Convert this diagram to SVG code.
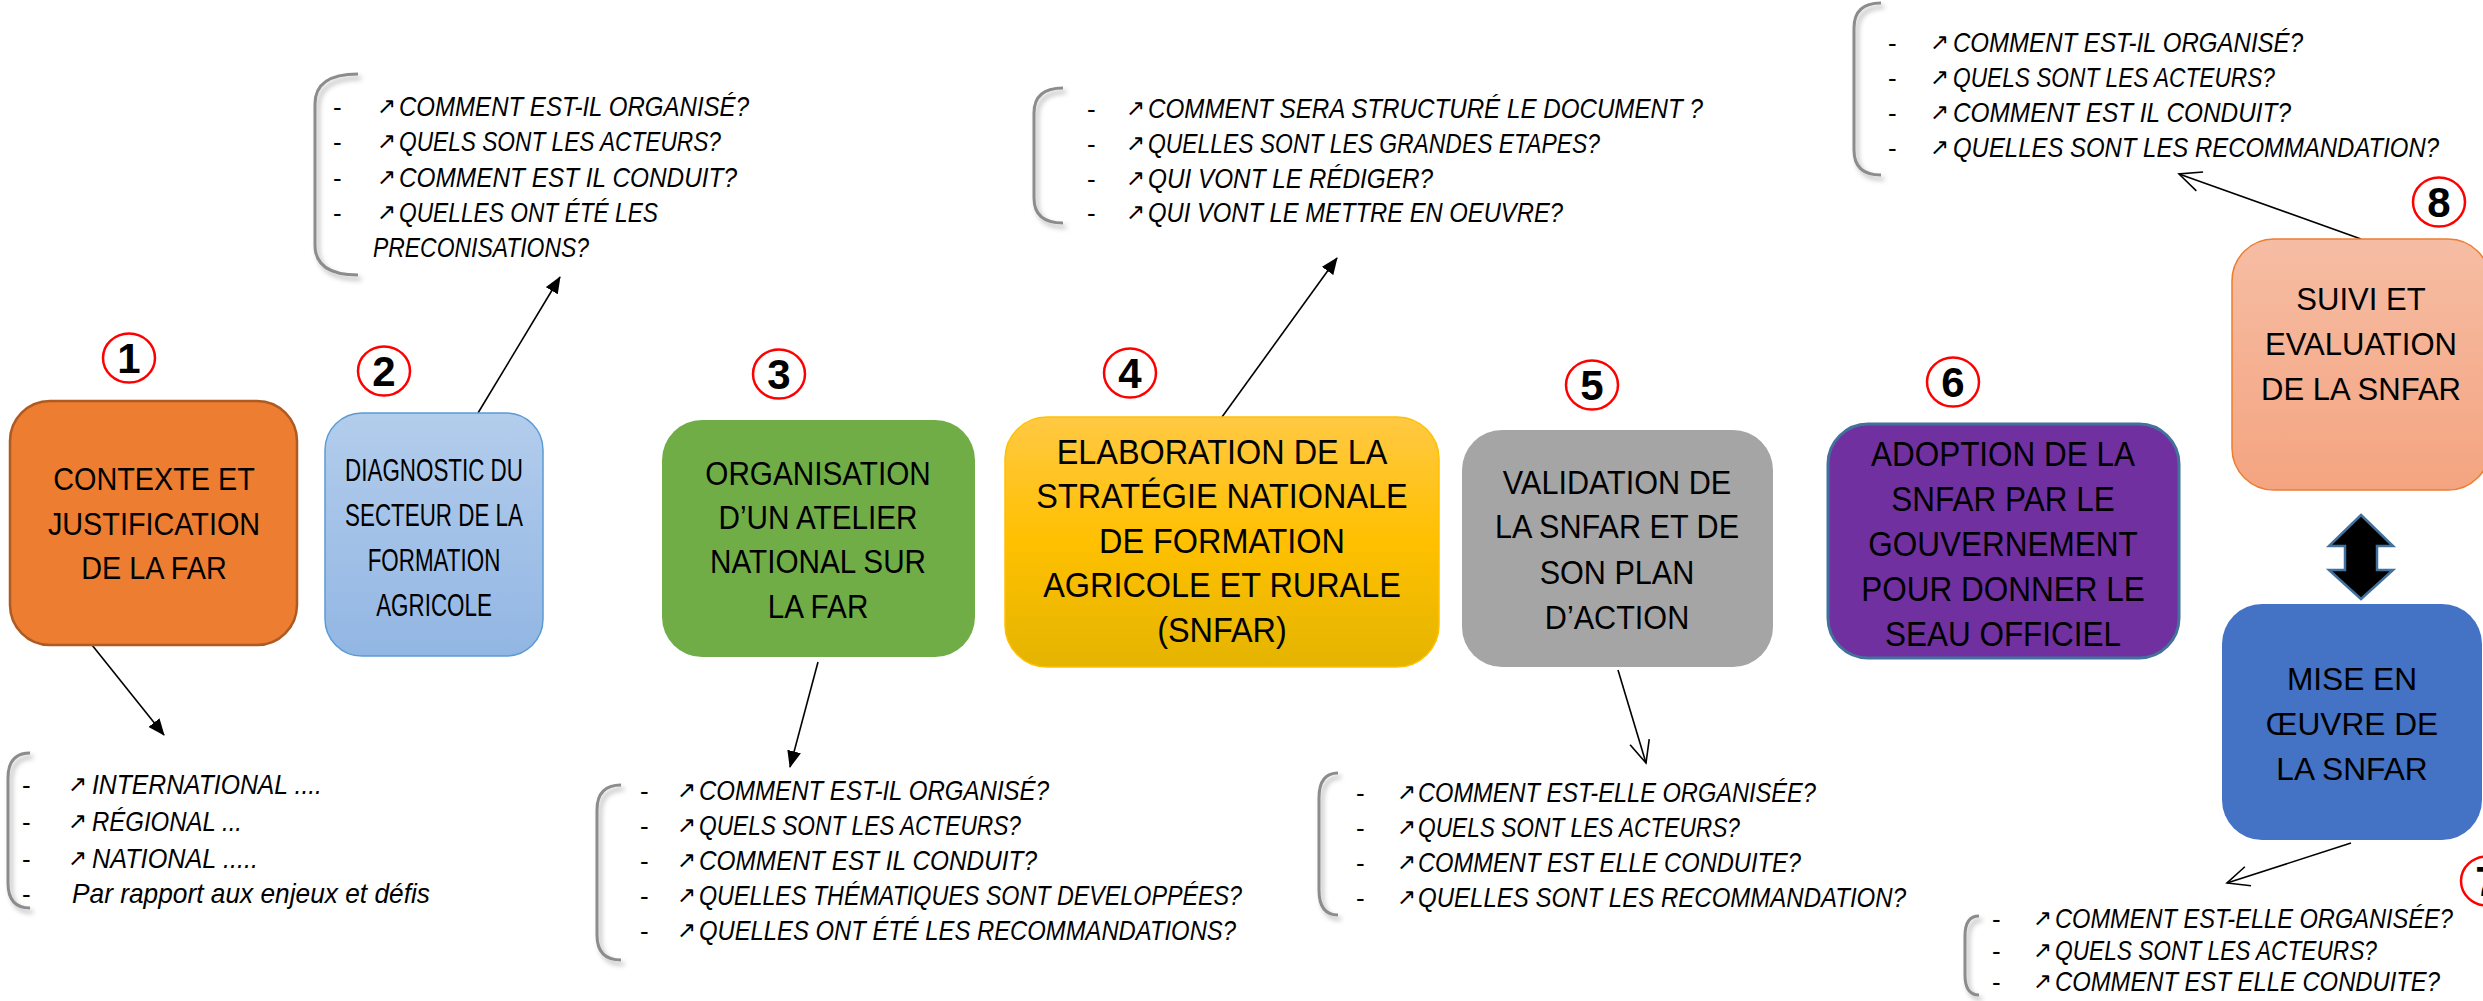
<svg xmlns="http://www.w3.org/2000/svg" width="2483" height="1001" viewBox="0 0 2483 1001">
<style>
.bt{font-family:"Liberation Sans",Arial,sans-serif;font-size:32px;fill:#000;text-anchor:middle}
.bl{font-family:"Liberation Sans",Arial,sans-serif;font-size:28px;font-style:italic;fill:#000}
.dash{font-family:"Liberation Sans",Arial,sans-serif;font-size:26px;fill:#000}
.ar{font-family:"DejaVu Sans",sans-serif;font-size:23px;fill:#000}
.num{font-family:"Liberation Sans",Arial,sans-serif;font-size:42px;font-weight:bold;fill:#000;text-anchor:middle}
.circ{fill:#fff;stroke:#FF0000;stroke-width:2.5}
.brk{fill:none;stroke:#8C8C8C;stroke-width:3;filter:url(#sh)}
.con{fill:none;stroke:#000;stroke-width:1.6}
</style>
<defs>
<linearGradient id="g2" x1="0" y1="0" x2="0" y2="1"><stop offset="0" stop-color="#B3CDEC"/><stop offset="1" stop-color="#92B6E3"/></linearGradient>
<linearGradient id="g4" x1="0" y1="0" x2="0" y2="1"><stop offset="0" stop-color="#FFC943"/><stop offset="0.5" stop-color="#FFC000"/><stop offset="1" stop-color="#E4B400"/></linearGradient>
<linearGradient id="g8" x1="0" y1="0" x2="0" y2="1"><stop offset="0" stop-color="#F6BDA4"/><stop offset="1" stop-color="#F4A480"/></linearGradient>
<filter id="sh" x="-50%" y="-10%" width="200%" height="130%"><feDropShadow dx="3" dy="4" stdDeviation="2.5" flood-color="#000" flood-opacity="0.3"/></filter>
<marker id="fa" markerUnits="userSpaceOnUse" markerWidth="18" markerHeight="14" refX="16" refY="7" orient="auto"><path d="M0,0 L17,7 L0,14 z" fill="#000"/></marker>
<marker id="oa" markerUnits="userSpaceOnUse" markerWidth="26" markerHeight="22" refX="23" refY="11" orient="auto"><path d="M1,1 L23,11 L1,21" fill="none" stroke="#000" stroke-width="1.6"/></marker>
</defs>
<rect width="2483" height="1001" fill="#fff"/>

<g id="connectors">
<line class="con" x1="92" y1="645" x2="164" y2="735" marker-end="url(#fa)"/>
<line class="con" x1="478" y1="413" x2="560" y2="277" marker-end="url(#fa)"/>
<line class="con" x1="818" y1="662" x2="790" y2="767" marker-end="url(#fa)"/>
<line class="con" x1="1222" y1="417" x2="1337" y2="258" marker-end="url(#fa)"/>
<line class="con" x1="1618" y1="670" x2="1646" y2="763" marker-end="url(#oa)"/>
<line class="con" x1="2361" y1="239" x2="2179" y2="174" marker-end="url(#oa)"/>
<line class="con" x1="2351" y1="843" x2="2227" y2="883" marker-end="url(#oa)"/>
<polygon id="double-arrow" points="2361,515 2393,546 2377,546 2377,570 2393,570 2361,599 2329,570 2345,570 2345,546 2329,546" fill="#000" stroke="#41719C" stroke-width="2.5"/>
</g>

<g id="node1">
<rect x="10" y="401" width="287" height="244" rx="40" fill="#ED7D31" stroke="#AE5A21" stroke-width="2.5"/>
<g transform="translate(154 0) scale(0.9 1)">
<text class="bt" x="0" y="490">CONTEXTE ET</text>
<text class="bt" x="0" y="535">JUSTIFICATION</text>
<text class="bt" x="0" y="579">DE LA FAR</text>
</g>
</g>
<g id="node2">
<rect x="325" y="413" width="218" height="243" rx="37" fill="url(#g2)" stroke="#5B9BD5" stroke-width="1.5"/>
<g transform="translate(434 0) scale(0.7 1)">
<text class="bt" x="0" y="481">DIAGNOSTIC DU</text>
<text class="bt" x="0" y="526">SECTEUR DE LA</text>
<text class="bt" x="0" y="571">FORMATION</text>
<text class="bt" x="0" y="616">AGRICOLE</text>
</g>
</g>
<g id="node3">
<rect x="662" y="420" width="313" height="237" rx="40" fill="#70AD47"/>
<g transform="translate(818 0) scale(0.9 1)">
<text class="bt" x="0" y="485" style="font-size:33px">ORGANISATION</text>
<text class="bt" x="0" y="529" style="font-size:33px">D’UN ATELIER</text>
<text class="bt" x="0" y="573" style="font-size:33px">NATIONAL SUR</text>
<text class="bt" x="0" y="618" style="font-size:33px">LA FAR</text>
</g>
</g>
<g id="node4">
<rect x="1005" y="417" width="434" height="250" rx="42" fill="url(#g4)" stroke="#FFC000" stroke-width="1.5"/>
<g transform="translate(1222 0) scale(0.9 1)">
<text class="bt" x="0" y="464" style="font-size:36px">ELABORATION DE LA</text>
<text class="bt" x="0" y="508" style="font-size:36px">STRATÉGIE NATIONALE</text>
<text class="bt" x="0" y="553" style="font-size:36px">DE FORMATION</text>
<text class="bt" x="0" y="597" style="font-size:36px">AGRICOLE ET RURALE</text>
<text class="bt" x="0" y="642" style="font-size:36px">(SNFAR)</text>
</g>
</g>
<g id="node5">
<rect x="1462" y="430" width="311" height="237" rx="40" fill="#A5A5A5"/>
<g transform="translate(1617 0) scale(0.9 1)">
<text class="bt" x="0" y="494" style="font-size:34px">VALIDATION DE</text>
<text class="bt" x="0" y="538" style="font-size:34px">LA SNFAR ET DE</text>
<text class="bt" x="0" y="584" style="font-size:34px">SON PLAN</text>
<text class="bt" x="0" y="629" style="font-size:34px">D’ACTION</text>
</g>
</g>
<g id="node6">
<rect x="1828" y="424" width="351" height="234" rx="40" fill="#7030A0" stroke="#41719C" stroke-width="3"/>
<g transform="translate(2003 0) scale(0.9 1)">
<text class="bt" x="0" y="466" style="font-size:35px">ADOPTION DE LA</text>
<text class="bt" x="0" y="511" style="font-size:35px">SNFAR PAR LE</text>
<text class="bt" x="0" y="556" style="font-size:35px">GOUVERNEMENT</text>
<text class="bt" x="0" y="601" style="font-size:35px">POUR DONNER LE</text>
<text class="bt" x="0" y="646" style="font-size:35px">SEAU OFFICIEL</text>
</g>
</g>
<g id="node7">
<rect x="2222" y="604" width="260" height="236" rx="40" fill="#4472C4"/>
<g transform="translate(2352 0) scale(0.99 1)">
<text class="bt" x="0" y="690">MISE EN</text>
<text class="bt" x="0" y="735">ŒUVRE DE</text>
<text class="bt" x="0" y="780">LA SNFAR</text>
</g>
</g>
<g id="node8">
<rect x="2232" y="239" width="258" height="251" rx="42" fill="url(#g8)" stroke="#ED7D31" stroke-width="1.5"/>
<g transform="translate(2361 0) scale(0.97 1)">
<text class="bt" x="0" y="310">SUIVI ET</text>
<text class="bt" x="0" y="355">EVALUATION</text>
<text class="bt" x="0" y="400">DE LA SNFAR</text>
</g>
</g>

<g id="badges">
<g id="badge1"><ellipse class="circ" cx="129" cy="358" rx="26" ry="24.5"/><text class="num" x="129" y="373">1</text></g>
<g id="badge2"><ellipse class="circ" cx="384" cy="371" rx="26" ry="24.5"/><text class="num" x="384" y="386">2</text></g>
<g id="badge3"><ellipse class="circ" cx="779" cy="374" rx="26" ry="24.5"/><text class="num" x="779" y="389">3</text></g>
<g id="badge4"><ellipse class="circ" cx="1130" cy="373" rx="26" ry="24.5"/><text class="num" x="1130" y="388">4</text></g>
<g id="badge5"><ellipse class="circ" cx="1592" cy="385" rx="26" ry="24.5"/><text class="num" x="1592" y="400">5</text></g>
<g id="badge6"><ellipse class="circ" cx="1953" cy="382" rx="26" ry="24.5"/><text class="num" x="1953" y="397">6</text></g>
<g id="badge7"><ellipse class="circ" cx="2487" cy="881" rx="26" ry="24.5"/><text class="num" x="2487" y="896">7</text></g>
<g id="badge8"><ellipse class="circ" cx="2439" cy="202" rx="26" ry="24.5"/><text class="num" x="2439" y="217">8</text></g>
</g>

<g id="notes1">
<path class="brk" d="M30,753 Q8,753 8,778 L8,883 Q8,908 30,908"/>
<text class="dash" x="22" y="794">-</text><text class="ar" x="68" y="792">↗</text><text class="bl" x="92" y="794" textLength="230" lengthAdjust="spacingAndGlyphs">INTERNATIONAL ....</text>
<text class="dash" x="22" y="831">-</text><text class="ar" x="68" y="829">↗</text><text class="bl" x="92" y="831" textLength="150" lengthAdjust="spacingAndGlyphs">RÉGIONAL ...</text>
<text class="dash" x="22" y="868">-</text><text class="ar" x="68" y="866">↗</text><text class="bl" x="92" y="868" textLength="166" lengthAdjust="spacingAndGlyphs">NATIONAL .....</text>
<text class="dash" x="22" y="903">-</text><text class="bl" x="72" y="903" textLength="358" lengthAdjust="spacingAndGlyphs">Par rapport aux enjeux et défis</text>
</g>

<g id="notes2">
<path class="brk" d="M358,74 Q315,74 315,104 L315,245 Q315,275 358,275"/>
<text class="dash" x="333" y="116">-</text><text class="ar" x="377" y="114">↗</text><text class="bl" x="399" y="116" textLength="350" lengthAdjust="spacingAndGlyphs">COMMENT EST-IL ORGANISÉ?</text>
<text class="dash" x="333" y="151">-</text><text class="ar" x="377" y="149">↗</text><text class="bl" x="399" y="151" textLength="322" lengthAdjust="spacingAndGlyphs">QUELS SONT LES ACTEURS?</text>
<text class="dash" x="333" y="187">-</text><text class="ar" x="377" y="185">↗</text><text class="bl" x="399" y="187" textLength="338" lengthAdjust="spacingAndGlyphs">COMMENT EST IL CONDUIT?</text>
<text class="dash" x="333" y="222">-</text><text class="ar" x="377" y="220">↗</text><text class="bl" x="399" y="222" textLength="259" lengthAdjust="spacingAndGlyphs">QUELLES ONT ÉTÉ LES</text>
<text class="bl" x="373" y="257" textLength="216" lengthAdjust="spacingAndGlyphs">PRECONISATIONS?</text>
</g>

<g id="notes3">
<path class="brk" d="M621,785 Q597,785 597,810 L597,935 Q597,960 621,960"/>
<text class="dash" x="640" y="800">-</text><text class="ar" x="677" y="798">↗</text><text class="bl" x="699" y="800" textLength="350" lengthAdjust="spacingAndGlyphs">COMMENT EST-IL ORGANISÉ?</text>
<text class="dash" x="640" y="835">-</text><text class="ar" x="677" y="833">↗</text><text class="bl" x="699" y="835" textLength="322" lengthAdjust="spacingAndGlyphs">QUELS SONT LES ACTEURS?</text>
<text class="dash" x="640" y="870">-</text><text class="ar" x="677" y="868">↗</text><text class="bl" x="699" y="870" textLength="338" lengthAdjust="spacingAndGlyphs">COMMENT EST IL CONDUIT?</text>
<text class="dash" x="640" y="905">-</text><text class="ar" x="677" y="903">↗</text><text class="bl" x="699" y="905" textLength="543" lengthAdjust="spacingAndGlyphs">QUELLES THÉMATIQUES SONT DEVELOPPÉES?</text>
<text class="dash" x="640" y="940">-</text><text class="ar" x="677" y="938">↗</text><text class="bl" x="699" y="940" textLength="537" lengthAdjust="spacingAndGlyphs">QUELLES ONT ÉTÉ LES RECOMMANDATIONS?</text>
</g>

<g id="notes4">
<path class="brk" d="M1063,88 Q1034,88 1034,113 L1034,198 Q1034,223 1063,223"/>
<text class="dash" x="1087" y="118">-</text><text class="ar" x="1126" y="116">↗</text><text class="bl" x="1148" y="118" textLength="555" lengthAdjust="spacingAndGlyphs">COMMENT SERA  STRUCTURÉ LE DOCUMENT ?</text>
<text class="dash" x="1087" y="153">-</text><text class="ar" x="1126" y="151">↗</text><text class="bl" x="1148" y="153" textLength="452" lengthAdjust="spacingAndGlyphs">QUELLES SONT LES GRANDES ETAPES?</text>
<text class="dash" x="1087" y="188">-</text><text class="ar" x="1126" y="186">↗</text><text class="bl" x="1148" y="188" textLength="285" lengthAdjust="spacingAndGlyphs">QUI VONT  LE RÉDIGER?</text>
<text class="dash" x="1087" y="222">-</text><text class="ar" x="1126" y="220">↗</text><text class="bl" x="1148" y="222" textLength="415" lengthAdjust="spacingAndGlyphs">QUI VONT LE METTRE EN OEUVRE?</text>
</g>

<g id="notes5">
<path class="brk" d="M1338,773 Q1319,773 1319,798 L1319,890 Q1319,915 1338,915"/>
<text class="dash" x="1356" y="802">-</text><text class="ar" x="1397" y="800">↗</text><text class="bl" x="1418" y="802" textLength="398" lengthAdjust="spacingAndGlyphs">COMMENT EST-ELLE ORGANISÉE?</text>
<text class="dash" x="1356" y="837">-</text><text class="ar" x="1397" y="835">↗</text><text class="bl" x="1418" y="837" textLength="322" lengthAdjust="spacingAndGlyphs">QUELS SONT LES ACTEURS?</text>
<text class="dash" x="1356" y="872">-</text><text class="ar" x="1397" y="870">↗</text><text class="bl" x="1418" y="872" textLength="383" lengthAdjust="spacingAndGlyphs">COMMENT EST ELLE CONDUITE?</text>
<text class="dash" x="1356" y="907">-</text><text class="ar" x="1397" y="905">↗</text><text class="bl" x="1418" y="907" textLength="488" lengthAdjust="spacingAndGlyphs">QUELLES SONT LES RECOMMANDATION?</text>
</g>

<g id="notes8">
<path class="brk" d="M1881,3 Q1854,3 1854,28 L1854,150 Q1854,175 1881,175"/>
<text class="dash" x="1888" y="52">-</text><text class="ar" x="1930" y="50">↗</text><text class="bl" x="1953" y="52" textLength="350" lengthAdjust="spacingAndGlyphs">COMMENT EST-IL ORGANISÉ?</text>
<text class="dash" x="1888" y="87">-</text><text class="ar" x="1930" y="85">↗</text><text class="bl" x="1953" y="87" textLength="322" lengthAdjust="spacingAndGlyphs">QUELS SONT LES ACTEURS?</text>
<text class="dash" x="1888" y="122">-</text><text class="ar" x="1930" y="120">↗</text><text class="bl" x="1953" y="122" textLength="338" lengthAdjust="spacingAndGlyphs">COMMENT EST IL CONDUIT?</text>
<text class="dash" x="1888" y="157">-</text><text class="ar" x="1930" y="155">↗</text><text class="bl" x="1953" y="157" textLength="486" lengthAdjust="spacingAndGlyphs">QUELLES SONT LES RECOMMANDATION?</text>
</g>

<g id="notes7">
<path class="brk" d="M1979,916 Q1965,916 1965,936 L1965,975 Q1965,995 1979,995"/>
<text class="dash" x="1992" y="928">-</text><text class="ar" x="2033" y="926">↗</text><text class="bl" x="2055" y="928" textLength="398" lengthAdjust="spacingAndGlyphs">COMMENT EST-ELLE ORGANISÉE?</text>
<text class="dash" x="1992" y="960">-</text><text class="ar" x="2033" y="958">↗</text><text class="bl" x="2055" y="960" textLength="322" lengthAdjust="spacingAndGlyphs">QUELS SONT LES ACTEURS?</text>
<text class="dash" x="1992" y="991">-</text><text class="ar" x="2033" y="989">↗</text><text class="bl" x="2055" y="991" textLength="385" lengthAdjust="spacingAndGlyphs">COMMENT EST ELLE CONDUITE?</text>
</g>
</svg>
